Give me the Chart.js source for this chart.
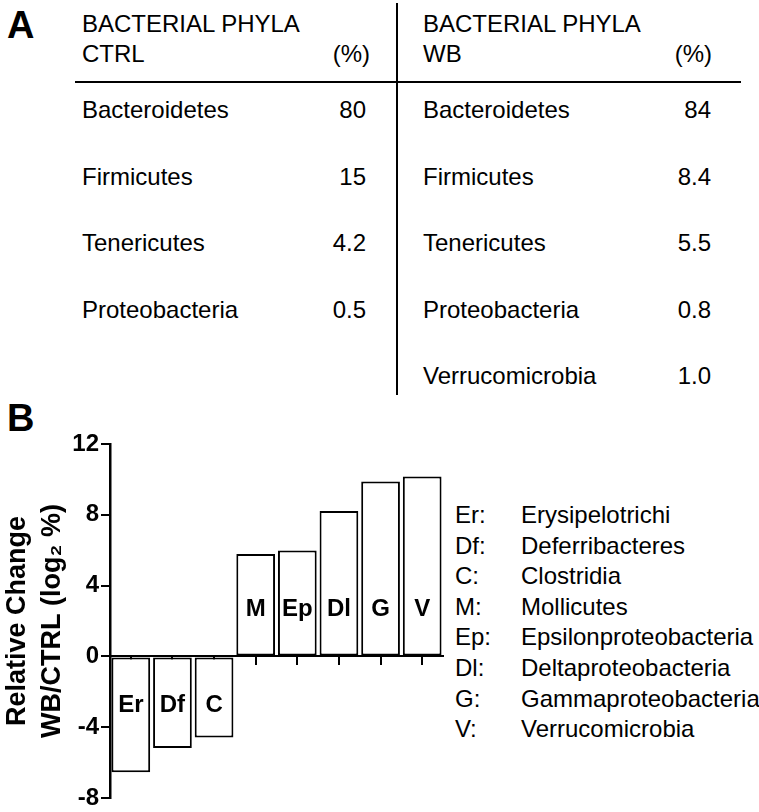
<!DOCTYPE html>
<html>
<head>
<meta charset="utf-8">
<script src="https://cdn.jsdelivr.net/npm/chart.js@4.4.1/dist/chart.umd.min.js"></script>
<style>
  html, body { margin:0; padding:0; background:#fff; }
  body { width:759px; height:812px; position:relative; overflow:hidden; font-family:"Liberation Sans", Arial, sans-serif; color:#000; }
  .t { position:absolute; font-size:24px; line-height:24px; white-space:nowrap; }
  .r { text-align:right; }
  .panel { position:absolute; font-weight:bold; font-size:38px; line-height:38px; }
  .hline { position:absolute; background:#000; }
  #chartWrap { position:absolute; left:0; top:430px; width:460px; height:382px; }
</style>
</head>
<body>
<div class="panel" style="left:7px;top:6px;">A</div>
<div class="panel" style="left:7px;top:399px;">B</div>
<div class="hline" style="left:75px;top:81px;width:666px;height:2px;"></div>
<div class="hline" style="left:396px;top:3px;width:2px;height:392px;"></div>
<div id="table"></div>
<div id="key"></div>
<div id="chartWrap"><canvas id="chartB" width="460" height="382"></canvas></div>
<script>
// panel A
const ctrlPhyla = ['Bacteroidetes', 'Firmicutes', 'Tenericutes', 'Proteobacteria'];
const ctrlPct = ['80', '15', '4.2', '0.5'];
const wbPhyla = ['Bacteroidetes', 'Firmicutes', 'Tenericutes', 'Proteobacteria', 'Verrucomicrobia'];
const wbPct = ['84', '8.4', '5.5', '0.8', '1.0'];

// panel B
const abbrevs = ['Er', 'Df', 'C', 'M', 'Ep', 'Dl', 'G', 'V'];
const classNames = ['Erysipelotrichi', 'Deferribacteres', 'Clostridia', 'Mollicutes',
  'Epsilonproteobacteria', 'Deltaproteobacteria', 'Gammaproteobacteria', 'Verrucomicrobia'];
const log2Change = [-6.55, -5.18, -4.58, 5.79, 5.99, 8.21, 9.88, 10.16];
const yMin = -8, yMax = 12, yStep = 4;

function addText(parent, txt, left, top, cls, width){
  const d = document.createElement('div');
  d.className = 't' + (cls ? ' ' + cls : '');
  d.textContent = txt;
  d.style.top = top + 'px';
  if (cls === 'r') { d.style.left = (left - width) + 'px'; d.style.width = width + 'px'; }
  else d.style.left = left + 'px';
  parent.appendChild(d);
}

function buildTable(){
  const el = document.getElementById('table');
  addText(el, 'BACTERIAL PHYLA', 82, 12);
  addText(el, 'CTRL', 82, 42);
  addText(el, '(%)', 370, 42, 'r', 60);
  addText(el, 'BACTERIAL PHYLA', 423, 12);
  addText(el, 'WB', 423, 42);
  addText(el, '(%)', 712, 42, 'r', 60);
  const rowTop = 98, rowGap = 66.5;
  ctrlPhyla.forEach((p, i)=>{
    addText(el, p, 82, rowTop + i*rowGap);
    addText(el, ctrlPct[i], 366, rowTop + i*rowGap, 'r', 60);
  });
  wbPhyla.forEach((p, i)=>{
    addText(el, p, 423, rowTop + i*rowGap);
    addText(el, wbPct[i], 711, rowTop + i*rowGap, 'r', 60);
  });
}

function buildKey(){
  const el = document.getElementById('key');
  abbrevs.forEach((a, i)=>{
    const top = 503 + i*30.6;
    addText(el, a + ':', 455, top);
    addText(el, classNames[i], 521, top);
  });
}

// labels inside the bars
const barLabels = {
  id: 'barLabels',
  afterDatasetsDraw(chart){
    const {ctx} = chart;
    const y = chart.scales.y;
    const meta = chart.getDatasetMeta(0);
    ctx.save();
    ctx.font = 'bold 24px "Liberation Sans", Arial, sans-serif';
    ctx.fillStyle = '#000';
    ctx.textAlign = 'center';
    ctx.textBaseline = 'middle';
    meta.data.forEach((bar, i)=>{
      const v = log2Change[i];
      ctx.fillText(abbrevs[i], bar.x, y.getPixelForValue(v >= 0 ? 2.65 : -2.75));
    });
    ctx.restore();
  }
};

let chartB;

function renderChart(){
  const ctx = document.getElementById('chartB');
  chartB && chartB.destroy();
  chartB = new Chart(ctx, {
    type: 'bar',
    data: {
      labels: abbrevs,
      datasets: [{
        data: log2Change,
        backgroundColor: '#fff',
        borderColor: '#000',
        borderWidth: 2,
        borderSkipped: false,
        categoryPercentage: 1,
        barPercentage: 0.93
      }]
    },
    options: {
      responsive: false,
      animation: false,
      layout: { padding: { top: 14, right: 17, bottom: 13, left: 0 } },
      plugins: { legend: { display: false }, tooltip: { enabled: false } },
      scales: {
        x: {
          position: { y: 0 },
          grid: { offset: false, drawOnChartArea: false, drawTicks: true, tickLength: 8, color: '#000', lineWidth: 2 },
          border: { display: true, color: '#000', width: 2 },
          ticks: { display: false }
        },
        y: {
          min: yMin, max: yMax,
          afterFit(scale){ scale.width = 110; },
          ticks: { stepSize: yStep, color: '#000', padding: 2,
            font: { family: '"Liberation Sans", Arial, sans-serif', size: 24, weight: 'bold', lineHeight: 1 } },
          grid: { drawOnChartArea: false, drawTicks: true, tickLength: 9, color: '#000', lineWidth: 2 },
          border: { display: true, color: '#000', width: 2.5 },
          title: {
            display: true,
            text: ['Relative Change', 'WB/CTRL (log\u2082 %)'],
            color: '#000',
            padding: 0,
            font: { family: '"Liberation Sans", Arial, sans-serif', size: 27, weight: 'bold', lineHeight: 1.3 }
          }
        }
      }
    },
    plugins: [barLabels]
  });
}

buildTable();
buildKey();
renderChart();
</script>
</body>
</html>
